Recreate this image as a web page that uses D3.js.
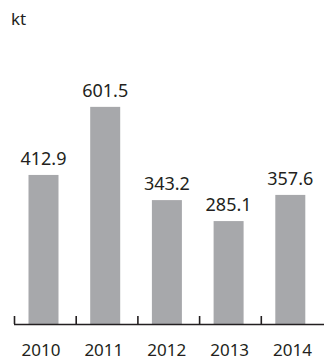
<!DOCTYPE html>
<html>
<head>
<meta charset="utf-8">
<script src="https://cdn.jsdelivr.net/npm/d3@7"></script>
<style>
  html, body { margin: 0; padding: 0; background: #fff; }
  svg { display: block; }
  text { font-family: "Noto Sans", "Open Sans", sans-serif; fill: #231f20; }
</style>
</head>
<body>
<script>
const categories = ["2010", "2011", "2012", "2013", "2014"];
const values = [412.9, 601.5, 343.2, 285.1, 357.6];
const valueLabels = ["412.9", "601.5", "343.2", "285.1", "357.6"];
const unitLabel = "kt";

const W = 324, H = 360;
const svg = d3.select("body").append("svg").attr("width", W).attr("height", H);

const baseY = 324;
const x = d3.scaleBand().domain(categories).range([14.5, 323]).padding(0);
const xLab = d3.scaleBand().domain(categories).range([9.5, 324]).padding(0);
const y = d3.scaleLinear().domain([0, 600]).range([baseY, 107.4]);

const barW = 30;
const barOff = 14;

svg.append("g").selectAll("rect").data(values).join("rect")
  .attr("x", (d, i) => x(categories[i]) + barOff)
  .attr("width", barW)
  .attr("y", d => y(d))
  .attr("height", d => baseY - y(d))
  .attr("fill", "#a7a8ab");

svg.append("g").selectAll("text").data(values).join("text")
  .attr("x", (d, i) => x(categories[i]) + barOff + barW / 2)
  .attr("y", d => y(d) - 10)
  .attr("text-anchor", "middle")
  .attr("font-size", 18)
  .text((d, i) => valueLabels[i]);

// axis line with tick marks at band starts
const axisG = svg.append("g");
axisG.append("line")
  .attr("x1", x.range()[0] - 0.5).attr("x2", W)
  .attr("y1", baseY + 0.5).attr("y2", baseY + 0.5)
  .attr("stroke", "#231f20").attr("stroke-width", 1.6);
axisG.selectAll("line.tick").data(categories).join("line")
  .attr("class", "tick")
  .attr("x1", d => x(d)).attr("x2", d => x(d))
  .attr("y1", baseY - 8).attr("y2", baseY)
  .attr("stroke", "#231f20").attr("stroke-width", 1.6);

// category labels via d3 axis
const labAxis = d3.axisBottom(xLab).tickSize(0).tickPadding(0);
const lg = svg.append("g").attr("transform", `translate(0, ${baseY})`).call(labAxis);
lg.select(".domain").remove();
lg.selectAll("text")
  .attr("font-size", 17)
  .attr("dy", null)
  .attr("y", 31.5)
  .style("font-family", '"Noto Sans", "Open Sans", sans-serif')
  .attr("fill", "#231f20");

svg.append("text")
  .attr("x", 11).attr("y", 25)
  .attr("font-size", 17)
  .text(unitLabel);
</script>
</body>
</html>
